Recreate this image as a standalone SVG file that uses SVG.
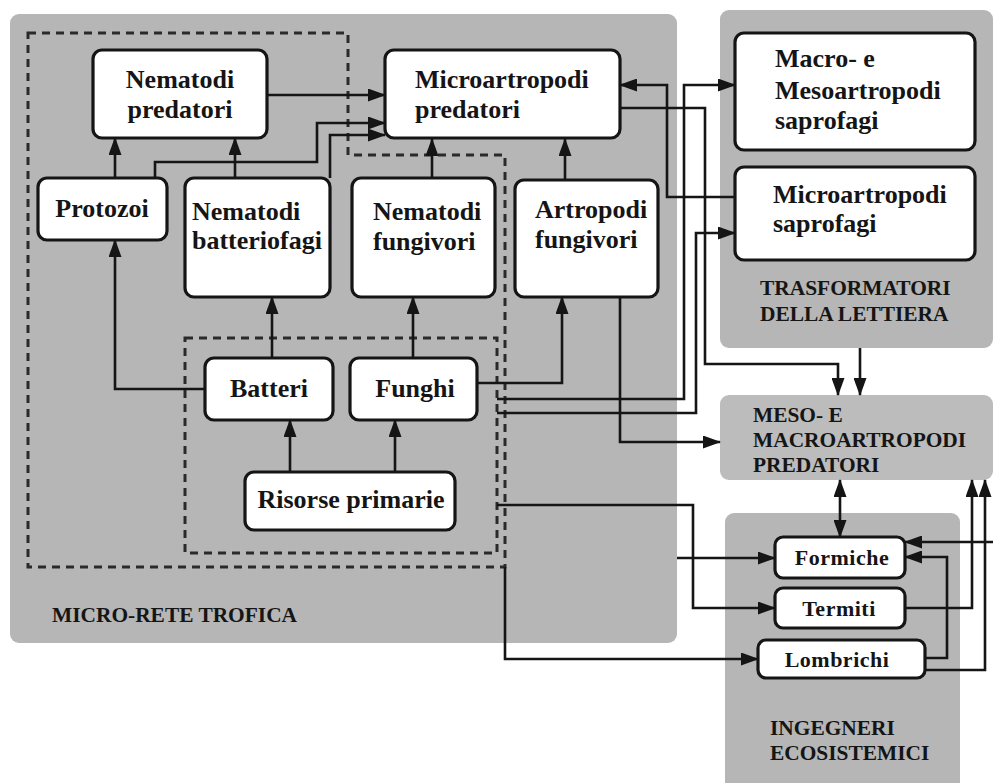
<svg xmlns="http://www.w3.org/2000/svg" width="993" height="783" viewBox="0 0 993 783">
<defs>
<style>
.panel{fill:#b6b6b6}
.node rect{fill:#fff;stroke:#151515;stroke-width:3.2}
.t{font-family:"Liberation Serif","Times New Roman",serif;font-weight:bold;fill:#151515}
.n{font-size:26px}
.s{font-size:22px}
.p{font-size:21.4px}
.dash{fill:none;stroke:#2a2a2a;stroke-width:3;stroke-dasharray:8 6}
#connectors path{fill:none;stroke:#151515;stroke-width:2.6}
</style>
<marker id="ah" markerWidth="18" markerHeight="13" refX="17" refY="6.5" orient="auto-start-reverse" markerUnits="userSpaceOnUse">
<path d="M0,0 L18,6.5 L0,13 Z" fill="#151515"/>
</marker>
</defs>
<rect width="993" height="783" fill="#fff"/>

<g id="panels">
<rect class="panel" x="10" y="14" width="667" height="629" rx="9"/>
<rect class="panel" x="720" y="10" width="273" height="338" rx="9"/>
<rect class="panel" x="720" y="395" width="273" height="85" rx="9" style="fill:#bcbcbc"/>
<rect class="panel" x="725" y="513" width="235" height="280" rx="9"/>
<text class="t p" x="52" y="622">MICRO-RETE TROFICA</text>
<text class="t p" x="760" y="295">TRASFORMATORI</text>
<text class="t p" x="760" y="321">DELLA LETTIERA</text>
<text class="t p" x="753" y="422">MESO- E</text>
<text class="t p" x="753" y="447">MACROARTROPODI</text>
<text class="t p" x="753" y="472">PREDATORI</text>
<text class="t p" x="770" y="735">INGEGNERI</text>
<text class="t p" x="770" y="760">ECOSISTEMICI</text>
</g>

<g id="groups">
<path class="dash" d="M28,33 H348 V155 H505 V567 H28 Z"/>
<rect class="dash" x="185" y="338" width="312" height="215"/>
</g>

<g id="connectors">
<path d="M267,95 H385" marker-end="url(#ah)"/>
<path d="M155,178 V162 H317 V123 H385" marker-end="url(#ah)"/>
<path d="M330,178 V135 H385" marker-end="url(#ah)"/>
<path d="M115,178 V138" marker-end="url(#ah)"/>
<path d="M235,178 V138" marker-end="url(#ah)"/>
<path d="M432,178 V139" marker-end="url(#ah)"/>
<path d="M565,180 V139" marker-end="url(#ah)"/>
<path d="M205,389 H115 V240" marker-end="url(#ah)"/>
<path d="M272,358 V297" marker-end="url(#ah)"/>
<path d="M413,358 V297" marker-end="url(#ah)"/>
<path d="M290,472 V420" marker-end="url(#ah)"/>
<path d="M395,472 V420" marker-end="url(#ah)"/>
<path d="M477,383 H562 V297" marker-end="url(#ah)"/>
<path d="M735,197 H667 V85 H620" marker-end="url(#ah)"/>
<path d="M497,399 H684 V85 H735" marker-end="url(#ah)"/>
<path d="M497,413 H696 V233 H735" marker-end="url(#ah)"/>
<path d="M620,108 H705 V364 H838 V395" marker-end="url(#ah)"/>
<path d="M860,348 V395" marker-end="url(#ah)"/>
<path d="M620,297 V442 H720" marker-end="url(#ah)"/>
<path d="M497,505 H693 V608 H775" marker-end="url(#ah)"/>
<path d="M677,558 H775" marker-end="url(#ah)"/>
<path d="M505,567 V659 H758" marker-end="url(#ah)"/>
<path d="M840,480 V537" marker-start="url(#ah)" marker-end="url(#ah)"/>
<path d="M905,608 H972 V480" marker-end="url(#ah)"/>
<path d="M925,670 H985 V480" marker-end="url(#ah)"/>
<path d="M925,658 H947 V557 H905" marker-end="url(#ah)"/>
<path d="M993,542 H905" marker-end="url(#ah)"/>
</g>

<g id="n_nempred" class="node"><rect x="93" y="50" width="174" height="88" rx="9"/>
<text class="t n" x="180" y="88" text-anchor="middle">Nematodi</text>
<text class="t n" x="180" y="118" text-anchor="middle">predatori</text></g>
<g id="n_micropred" class="node"><rect x="385" y="50" width="235" height="88" rx="9"/>
<text class="t n" x="415" y="88">Microartropodi</text>
<text class="t n" x="415" y="118">predatori</text></g>
<g id="n_protozoi" class="node"><rect x="38" y="178" width="129" height="62" rx="9"/>
<text class="t n" x="102" y="217" text-anchor="middle">Protozoi</text></g>
<g id="n_nembatt" class="node"><rect x="185" y="178" width="145" height="119" rx="9"/>
<text class="t n" x="192" y="220">Nematodi</text>
<text class="t n" x="192" y="249">batteriofagi</text></g>
<g id="n_nemfung" class="node"><rect x="352" y="178" width="143" height="119" rx="9"/>
<text class="t n" x="373" y="220">Nematodi</text>
<text class="t n" x="373" y="250">fungivori</text></g>
<g id="n_artfung" class="node"><rect x="515" y="180" width="143" height="117" rx="9"/>
<text class="t n" x="535" y="218">Artropodi</text>
<text class="t n" x="535" y="248">fungivori</text></g>
<g id="n_macrosap" class="node"><rect x="735" y="33" width="240" height="117" rx="9"/>
<text class="t n" x="775" y="67">Macro- e</text>
<text class="t n" x="775" y="99">Mesoartropodi</text>
<text class="t n" x="775" y="129">saprofagi</text></g>
<g id="n_microsap" class="node"><rect x="735" y="167" width="240" height="93" rx="9"/>
<text class="t n" x="773" y="203">Microartropodi</text>
<text class="t n" x="773" y="232">saprofagi</text></g>
<g id="n_batteri" class="node"><rect x="205" y="358" width="128" height="62" rx="9"/>
<text class="t n" x="269" y="397" text-anchor="middle">Batteri</text></g>
<g id="n_funghi" class="node"><rect x="350" y="358" width="127" height="62" rx="9"/>
<text class="t n" x="415" y="397" text-anchor="middle">Funghi</text></g>
<g id="n_risorse" class="node"><rect x="245" y="472" width="210" height="58" rx="9"/>
<text class="t n" x="351" y="508" text-anchor="middle">Risorse primarie</text></g>
<g id="n_formiche" class="node"><rect x="775" y="537" width="130" height="41" rx="8"/>
<text class="t s" x="842" y="565" text-anchor="middle" letter-spacing="0.5">Formiche</text></g>
<g id="n_termiti" class="node"><rect x="775" y="588" width="130" height="40" rx="8"/>
<text class="t s" x="839" y="616" text-anchor="middle" letter-spacing="0.5">Termiti</text></g>
<g id="n_lombrichi" class="node"><rect x="758" y="640" width="167" height="38" rx="8"/>
<text class="t s" x="837" y="667" text-anchor="middle" letter-spacing="0.5">Lombrichi</text></g>
</svg>
